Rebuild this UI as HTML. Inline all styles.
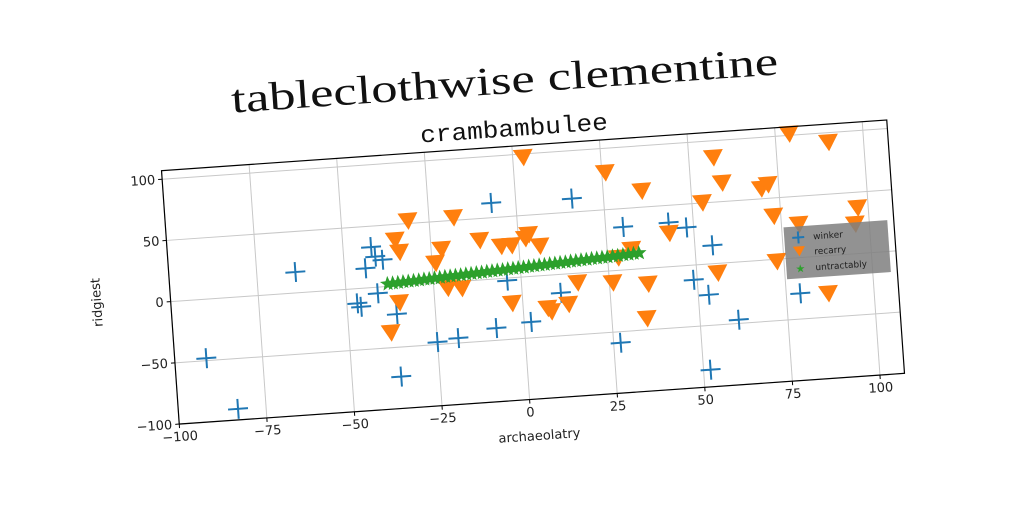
<!DOCTYPE html>
<html><head><meta charset="utf-8"><style>
html,body{margin:0;padding:0;background:#fff;}
svg{display:block;}
</style></head><body>
<svg id="chart" width="1024" height="512" viewBox="0 0 1024 512" xmlns="http://www.w3.org/2000/svg">
<rect width="1024" height="512" fill="#fff"/>
<g id="rot" transform="rotate(-4 533 272)">
  <text x="518" y="92" text-anchor="middle" font-family="Liberation Serif, serif" font-size="40" textLength="548" lengthAdjust="spacingAndGlyphs" fill="#111">tableclothwise clementine</text>
  <text x="524" y="135" text-anchor="middle" font-family="Liberation Mono, monospace" font-size="24" textLength="188" lengthAdjust="spacingAndGlyphs" fill="#111">crambambulee</text>
  <g id="grid"></g>
  <g id="marks"></g>
  <rect x="169.5" y="145" width="727" height="254" fill="none" stroke="#000" stroke-width="1.2"/>
  <g id="ticks"></g>
  <text x="528" y="440" text-anchor="middle" font-family="DejaVu Sans, sans-serif" font-size="13" fill="#222">archaeolatry</text>
  <text transform="translate(100 272) rotate(-90)" text-anchor="middle" font-family="DejaVu Sans, sans-serif" font-size="13" fill="#222">ridgiest</text>
  <g id="legend">
    <rect x="786" y="245" width="104" height="52" fill="#7f7f7f" fill-opacity="0.85"/>
    <g>
      <path d="M794 256h12M800 250v12" stroke="#1f77b4" stroke-width="2"/>
      <text x="815" y="259" font-family="DejaVu Sans, sans-serif" font-size="9" fill="#222">winker</text>
    </g>
    <g>
      <path d="M794 265h12l-6 10z" fill="#ff7f0e"/>
      <text x="815" y="274" font-family="DejaVu Sans, sans-serif" font-size="9" fill="#222">recarry</text>
    </g>
    <g>
      <text x="800" y="291" text-anchor="middle" font-size="11" fill="#2ca02c" font-family="DejaVu Sans, sans-serif">★</text>
      <text x="815" y="290" font-family="DejaVu Sans, sans-serif" font-size="9" fill="#222">untractably</text>
    </g>
  </g>
</g>
</svg>
<script>
const xTicks = [-100, -75, -50, -25, 0, 25, 50, 75, 100];
const yTicks = [-100, -50, 0, 50, 100];
const winkerX = [-91, -83, -64, -42, -41, -39, -44, -47, -46, -41, -36, -36, -25, -19, -8, 2, -7, -4, 16, 11, 30, 48, 43, 55, 49, 53, 61, 27, 52, 79];
const winkerY = [-48, -91, 17, 33, 25, 22, 16, -12, -15, -5, -23, -74, -48, -46, -40, -37, 62, -2, 61, -15, 35, 31, 36, 15, -12, -25, -47, -59, -86, -29];
const recarryX = [-31, -35, -34, -18, -22, -24, -11, -5, -2, 2, 6, 3, -35, -38, -21, -17, -3, 7, 26, 36, 57, 59, 53, 70, 73, 79, 90, 97, 80, 96, 73, 87, 56, 43, 35, 36, 26, 16, 13, 8, 3, 32, 28, 72];
const recarryY = [53, 38, 28, 53, 28, 17, 33, 27, 27, 32, 25, 98, -13, -37, -4, -5, -20, -26, 81, 64, 87, 66, 51, 59, 36, 102, 93, 38, 28, 25, -1, -30, -7, 28, -40, -12, -9, -7, -24, -29, 35, 17, 11, 62];
const untractX = [-38, -36.5, -35, -33.5, -32, -30.5, -29, -27.5, -26, -24.5, -23, -21.5, -20, -18.5, -17, -15.5, -14, -12.5, -11, -9.5, -8, -6.5, -5, -3.5, -2, -0.5, 1, 2.5, 4, 5.5, 7, 8.5, 10, 11.5, 13, 14.5, 16, 17.5, 19, 20.5, 22, 23.5, 25, 26.5, 28, 29.5, 31, 32.5, 34];
const untractY = [2.1, 2.3, 2.4, 2.8, 2.9, 3.2, 3.3, 3.7, 3.8, 4.1, 4.2, 4.6, 4.7, 5.0, 5.1, 5.5, 5.6, 5.9, 6.0, 6.4, 6.5, 6.8, 6.9, 7.3, 7.4, 7.7, 7.8, 8.2, 8.3, 8.6, 8.7, 9.1, 9.2, 9.5, 9.6, 10.0, 10.1, 10.4, 10.5, 10.9, 11.0, 11.3, 11.4, 11.8, 11.9, 12.2, 12.3, 12.7, 12.8];

const NS = 'http://www.w3.org/2000/svg';
const PL = 169.5, PR = 896.5, PT = 145, PB = 399;
const XMIN = -100, XMAX = 107, YMIN = -100, YMAX = 107;
function sx(v){ return PL + (v - XMIN) / (XMAX - XMIN) * (PR - PL); }
function sy(v){ return PB - (v - YMIN) / (YMAX - YMIN) * (PB - PT); }
function mk(tag, attrs, parent){ const e = document.createElementNS(NS, tag); for (const k in attrs) e.setAttribute(k, attrs[k]); parent.appendChild(e); return e; }
function fmt(v){ return v < 0 ? '\u2212' + Math.abs(v) : String(v); }

const grid = document.getElementById('grid');
const ticks = document.getElementById('ticks');
const marks = document.getElementById('marks');

xTicks.forEach(t => {
  const x = sx(t);
  const g = mk('line', {x1:x, x2:x, y1:PT, y2:PB, stroke:'#c8c8c8', 'stroke-width':1}, grid);
  
  
  const tk = mk('line', {x1:x, x2:x, y1:PB, y2:PB+4, stroke:'#000', 'stroke-width':1}, ticks);
  
  
  const tx = mk('text', {x:x, y:PB+17, 'text-anchor':'middle', 'font-family':'DejaVu Sans, sans-serif', 'font-size':13, fill:'#222'}, ticks);
  tx.textContent = fmt(t);
  
  
});
yTicks.forEach(t => {
  const y = sy(t);
  const g = mk('line', {x1:PL, x2:PR, y1:y, y2:y, stroke:'#c8c8c8', 'stroke-width':1}, grid);
  
  
  const tk = mk('line', {x1:PL-4, x2:PL, y1:y, y2:y, stroke:'#000', 'stroke-width':1}, ticks);
  
  
  const tx = mk('text', {x:PL-7, y:y+4.5, 'text-anchor':'end', 'font-family':'DejaVu Sans, sans-serif', 'font-size':13, fill:'#222'}, ticks);
  tx.textContent = fmt(t);
  
  
});

winkerX.forEach((v, i) => {
  const x = sx(v), y = sy(winkerY[i]);
  const p = mk('path', {d:`M${x-10} ${y}h20M${x} ${y-10}v20`, stroke:'#1f77b4', 'stroke-width':2, fill:'none'}, marks);
  
  
});
recarryX.forEach((v, i) => {
  const x = sx(v), y = sy(recarryY[i]);
  const p = mk('path', {d:`M${x-10} ${y-7}h20l-10 17z`, fill:'#ff7f0e'}, marks);
  
  
});
function starPath(cx, cy, R, r){
  let d = '';
  for (let k = 0; k < 10; k++){
    const a = -Math.PI/2 + k*Math.PI/5;
    const rr = k % 2 ? r : R;
    d += (k ? 'L' : 'M') + (cx + rr*Math.cos(a)).toFixed(2) + ' ' + (cy + rr*Math.sin(a)).toFixed(2);
  }
  return d + 'Z';
}
untractX.forEach((v, i) => {
  const p = mk('path', {d:starPath(sx(v), sy(untractY[i]), 8, 3.4), fill:'#2ca02c'}, marks);
  
  
});
</script>
</body></html>
